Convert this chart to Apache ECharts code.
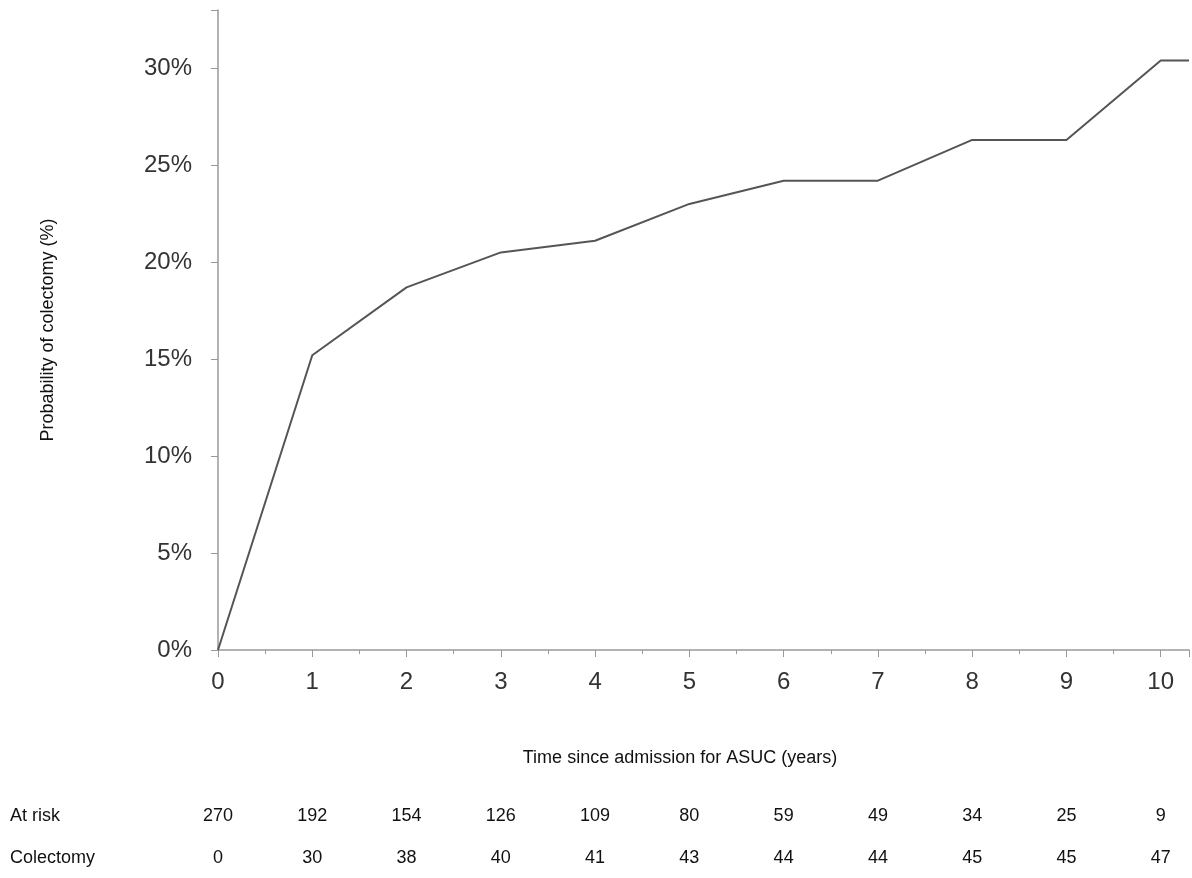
<!DOCTYPE html>
<html>
<head>
<meta charset="utf-8">
<script src="https://cdn.jsdelivr.net/npm/echarts@6/dist/echarts.min.js"></script>
<style>html,body{margin:0;background:#fff}#c{width:1192px;height:878px}</style>
</head>
<body>
<div id="c"></div>
<script>
const years = [0, 1, 2, 3, 4, 5, 6, 7, 8, 9, 10, 10.3];
const prob = [0, 15.2, 18.7, 20.5, 21.1, 23.0, 24.2, 24.2, 26.3, 26.3, 30.4, 30.4];
const tableTimes = [0, 1, 2, 3, 4, 5, 6, 7, 8, 9, 10];
const atRisk = [270, 192, 154, 126, 109, 80, 59, 49, 34, 25, 9];
const colectomy = [0, 30, 38, 40, 41, 43, 44, 44, 45, 45, 47];

const chart = echarts.init(document.getElementById('c'));
const font = 'Liberation Sans, Arial, sans-serif';
chart.setOption({
  animation: false,
  grid: { left: 218, right: 2, top: 10, bottom: 228 },
  xAxis: {
    type: 'value', min: 0, max: 10.3, interval: 1,
    axisLine: { lineStyle: { color: '#999', width: 1.5 } },
    axisTick: { length: 7, lineStyle: { color: '#999' } },
    minorTick: { show: true, splitNumber: 2, length: 4, lineStyle: { color: '#999' } },
    splitLine: { show: false },
    axisLabel: { fontSize: 24, color: '#333', fontFamily: font, margin: 20,
      formatter: v => Number.isInteger(v) ? v : '' }
  },
  yAxis: {
    type: 'value', min: 0, max: 33, interval: 5,
    axisLine: { show: true, lineStyle: { color: '#999', width: 1.5 } },
    axisTick: { show: true, length: 7, lineStyle: { color: '#999' } },
    splitLine: { show: false },
    axisLabel: { fontSize: 24, color: '#333', fontFamily: font, margin: 26,
      formatter: v => v <= 30 ? v + '%' : '' }
  },
  series: [{
    type: 'line', data: years.map((x, i) => [x, prob[i]]),
    showSymbol: false, lineStyle: { color: '#555', width: 2 }
  }]
});

const txt = (x, y, s, align) => ({ type: 'text', x, y,
  style: { text: s, fontSize: 18, fill: '#111', fontFamily: font, textAlign: align || 'center', textVerticalAlign: 'middle' } });
const g = [
  txt(680, 758, 'Time since admission for ASUC (years)'),
  { type: 'text', x: 48, y: 330, rotation: Math.PI / 2,
    style: { text: 'Probability of colectomy (%)', fontSize: 18, fill: '#111', fontFamily: font, textAlign: 'center', textVerticalAlign: 'middle' } },
  txt(10, 816, 'At risk', 'left'),
  txt(10, 858, 'Colectomy', 'left')
];
tableTimes.forEach((t, i) => {
  const px = chart.convertToPixel({ xAxisIndex: 0 }, t);
  g.push(txt(px, 816, String(atRisk[i])));
  g.push(txt(px, 858, String(colectomy[i])));
});
chart.setOption({ graphic: g });
</script>
</body>
</html>
